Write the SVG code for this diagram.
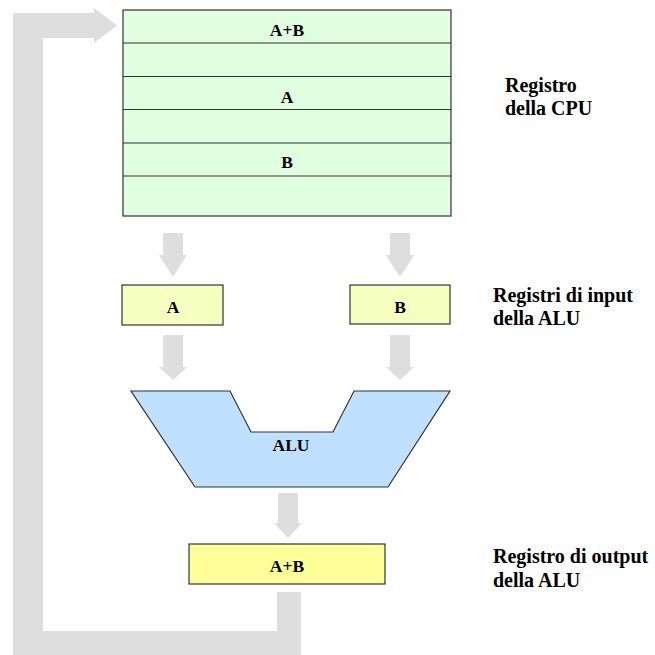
<svg xmlns="http://www.w3.org/2000/svg" width="655" height="655" viewBox="0 0 655 655">
<style>
.arrow{fill:#dedede;stroke:none}
.box{stroke:#333;stroke-width:1.2}
.lbl{font-family:'Liberation Serif','DejaVu Serif',serif;font-weight:bold;font-size:17.5px;fill:#000;text-anchor:middle}
.side{font-family:'Liberation Serif','DejaVu Serif',serif;font-weight:bold;font-size:20px;fill:#000}
</style>
<rect width="655" height="655" fill="#fff"/>
<g id="connectors">
<polygon class="arrow" points="13,655 13,13 94,13 94,8 117,25.5 94,43 94,38 43,38 43,631 277,631 277,592 301,592 301,655"/>
<polygon class="arrow" points="163,233 183,233 183,255 187,255 173,277 159,255 163,255"/>
<polygon class="arrow" points="390,233 410,233 410,255 414,255 400,277 386,255 390,255"/>
<polygon class="arrow" points="163,335 183,335 183,367 187,367 173,380 159,367 163,367"/>
<polygon class="arrow" points="390,335 410,335 410,367 414,367 400,380 386,367 390,367"/>
<polygon class="arrow" points="278,493 298,493 298,523 302,523 288,538 274,523 278,523"/>
</g>
<g id="cpu-register">
<rect class="box" x="123" y="10" width="328" height="206" fill="#e0ffe0" stroke-width="1.5"/>
<line class="box" x1="123" y1="43" x2="451" y2="43"/>
<line class="box" x1="123" y1="76.5" x2="451" y2="76.5"/>
<line class="box" x1="123" y1="109.5" x2="451" y2="109.5"/>
<line class="box" x1="123" y1="143" x2="451" y2="143"/>
<line class="box" x1="123" y1="176" x2="451" y2="176"/>
<text class="lbl" x="287" y="36">A+B</text>
<text class="lbl" x="287" y="103">A</text>
<text class="lbl" x="287" y="168">B</text>
</g>
<g id="input-a">
<rect class="box" x="122" y="285" width="101" height="40" fill="#f5ffc0"/>
<text class="lbl" x="173" y="313">A</text>
</g>
<g id="input-b">
<rect class="box" x="350" y="285" width="100" height="39" fill="#f5ffc0"/>
<text class="lbl" x="400" y="313">B</text>
</g>
<g id="alu">
<polygon class="box" points="131,391 230,391 251,432 333,432 354,391 450,391 388,487 195,487" fill="#bfe0ff" stroke-width="1.5"/>
<text class="lbl" x="291" y="451">ALU</text>
</g>
<g id="output">
<rect class="box" x="189" y="544" width="196" height="40" fill="#ffff99"/>
<text class="lbl" x="287" y="572">A+B</text>
</g>
<g id="labels">
<text class="side" x="505" y="92">Registro</text>
<text class="side" x="505" y="115">della CPU</text>
<text class="side" x="493" y="302">Registri di input</text>
<text class="side" x="493" y="325">della ALU</text>
<text class="side" x="493" y="563">Registro di output</text>
<text class="side" x="493" y="587">della ALU</text>
</g>
</svg>
